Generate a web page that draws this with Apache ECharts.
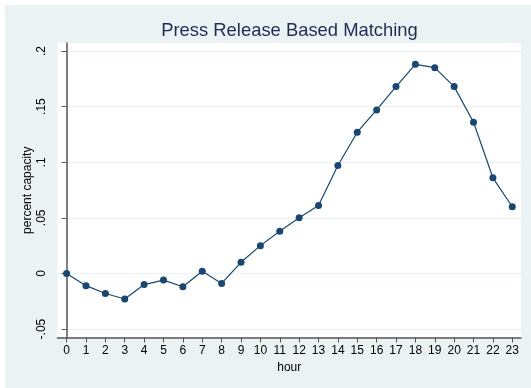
<!DOCTYPE html>
<html>
<head>
<meta charset="utf-8">
<script src="https://cdn.jsdelivr.net/npm/echarts@6/dist/echarts.min.js"></script>
<style>
  html, body { margin: 0; padding: 0; background: #ffffff; }
  #chart { position: absolute; left: 5px; top: 5px; width: 526px; height: 383px; }
</style>
</head>
<body>
<div id="chart"></div>
<script>
// Hour of day and average percent capacity
const hours = [0, 1, 2, 3, 4, 5, 6, 7, 8, 9, 10, 11, 12, 13, 14, 15, 16, 17, 18, 19, 20, 21, 22, 23];
const capacity = [0.000, -0.011, -0.018, -0.023, -0.010, -0.006, -0.012, 0.002, -0.009, 0.010,
                  0.025, 0.038, 0.050, 0.061, 0.097, 0.127, 0.147, 0.168, 0.188, 0.185,
                  0.168, 0.136, 0.086, 0.060];
const yTicks = [-0.05, 0, 0.05, 0.1, 0.15, 0.2];
const xTicks = hours;

const chart = echarts.init(document.getElementById('chart'), null, { renderer: 'canvas' });

const font = 'Liberation Sans, Arial, sans-serif';
const textColor = '#000000';

chart.setOption({
  backgroundColor: '#eaf2f3',
  animation: false,
  title: {
    text: 'Press Release Based Matching',
    left: 279.5,
    top: 12,
    textAlign: 'center',
    textStyle: { fontFamily: font, fontSize: 18.4, fontWeight: 'normal', color: '#1e2d53' }
  },
  grid: {
    left: 52.5, right: 10, top: 38, bottom: 50.5,
    show: true, backgroundColor: '#ffffff', borderWidth: 0
  },
  xAxis: {
    type: 'value',
    min: -0.47, max: 23.45,
    name: 'hour',
    nameLocation: 'middle',
    nameGap: 24,
    nameMoveOverlap: false,
    nameTextStyle: { fontFamily: font, fontSize: 12, color: textColor },
    axisLine: { show: true, onZero: false, lineStyle: { color: '#555555', width: 1.5 } },
    axisTick: { show: true, length: 5, customValues: xTicks, lineStyle: { color: '#555555', width: 1 } },
    axisLabel: { customValues: xTicks, margin: 7, fontFamily: font, fontSize: 12, color: textColor },
    splitLine: { show: false }
  },
  yAxis: {
    type: 'value',
    min: -0.0576, max: 0.2072,
    name: 'percent capacity',
    nameLocation: 'middle',
    nameRotate: 90,
    nameGap: 24,
    nameMoveOverlap: false,
    nameTextStyle: { fontFamily: font, fontSize: 12, color: textColor },
    axisLine: { show: true, lineStyle: { color: '#555555', width: 1.5 } },
    axisTick: { show: true, length: 5, customValues: yTicks, lineStyle: { color: '#555555', width: 1 } },
    axisLabel: {
      customValues: yTicks,
      rotate: 90,
      margin: 10,
      fontFamily: font, fontSize: 12, color: textColor,
      formatter: v => v === 0 ? '0' : String(+v.toFixed(4)).replace('0.', '.')
    },
    splitLine: { show: true, lineStyle: { color: '#eaf2f3', width: 1 } }
  },
  series: [{
    type: 'line',
    data: hours.map((h, i) => [h, capacity[i]]),
    symbol: 'circle',
    symbolSize: 7,
    itemStyle: { color: '#1a476f' },
    lineStyle: { color: '#1a476f', width: 1.2 }
  }]
});
</script>
</body>
</html>
